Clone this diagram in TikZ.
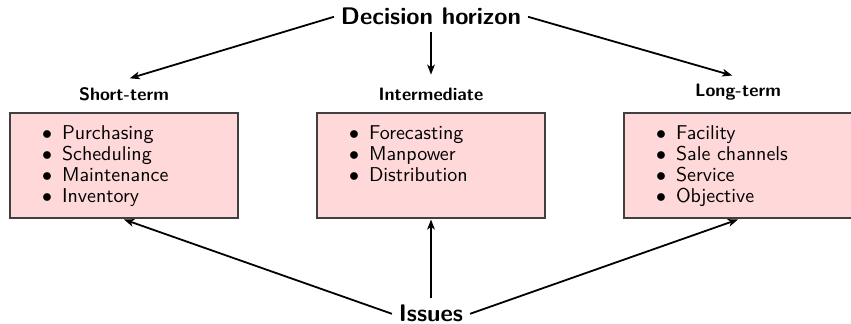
\documentclass[tikz,border=0pt]{standalone}
\usepackage{tikz}
\usetikzlibrary{positioning,arrows.meta}
\renewcommand{\familydefault}{\sfdefault}
\renewcommand{\labelitemi}{$\bullet$}

\newcommand{\issuelist}[1]{%
  \begin{minipage}[t][50.5pt][t]{112pt}
    \fontsize{10}{10.5}\selectfont
    \vspace*{5pt}
    \begin{itemize}\setlength{\itemsep}{0pt}\setlength{\parskip}{0pt}
      #1
    \end{itemize}
  \end{minipage}}

\begin{document}
\begin{tikzpicture}[x=0.5pt,y=0.5pt,>={Stealth[length=5pt,width=3.8pt,inset=1.3pt]},
  issuebox/.style={draw=black!75,fill=red!15,line width=1pt,inner sep=1pt},
  horizonlabel/.style={font=\large\bfseries,anchor=base},
  termlabel/.style={font=\small\bfseries},
  link/.style={->,line width=0.9pt,shorten >=3pt}]
  \useasboundingbox (0,0) rectangle (851,324);

  %boxes
  \node[issuebox] (shortbox) at (124,158) {\issuelist{\item Purchasing \item Scheduling \item Maintenance \item Inventory}};
  \node[issuebox] (midbox) at (431,158) {\issuelist{\item Forecasting \item Manpower \item Distribution}};
  \node[issuebox] (longbox) at (738,158) {\issuelist{\item Facility \item Sale channels \item Service \item Objective}};

  %headings
  \node[termlabel,above=2.5pt of shortbox] (short) {Short-term};
  \node[termlabel,above=2.5pt of midbox] (mid) {Intermediate};
  \node[termlabel,above=2.5pt of longbox] (long) {Long-term};

  %top and bottom
  \node[horizonlabel] (horizon) at (431,299) {Decision horizon};
  \node[horizonlabel] (issues) at (431,2) {Issues};

  \draw[link] (horizon.west) -- (short.north);
  \draw[link] (horizon.south) -- (mid.north);
  \draw[link] (horizon.east) -- (long.north);

  \draw[->,line width=0.9pt] (issues.west) -- (shortbox.south);
  \draw[->,line width=0.9pt] (issues.north) -- (midbox.south);
  \draw[->,line width=0.9pt] (issues.east) -- (longbox.south);
\end{tikzpicture}
\end{document}
